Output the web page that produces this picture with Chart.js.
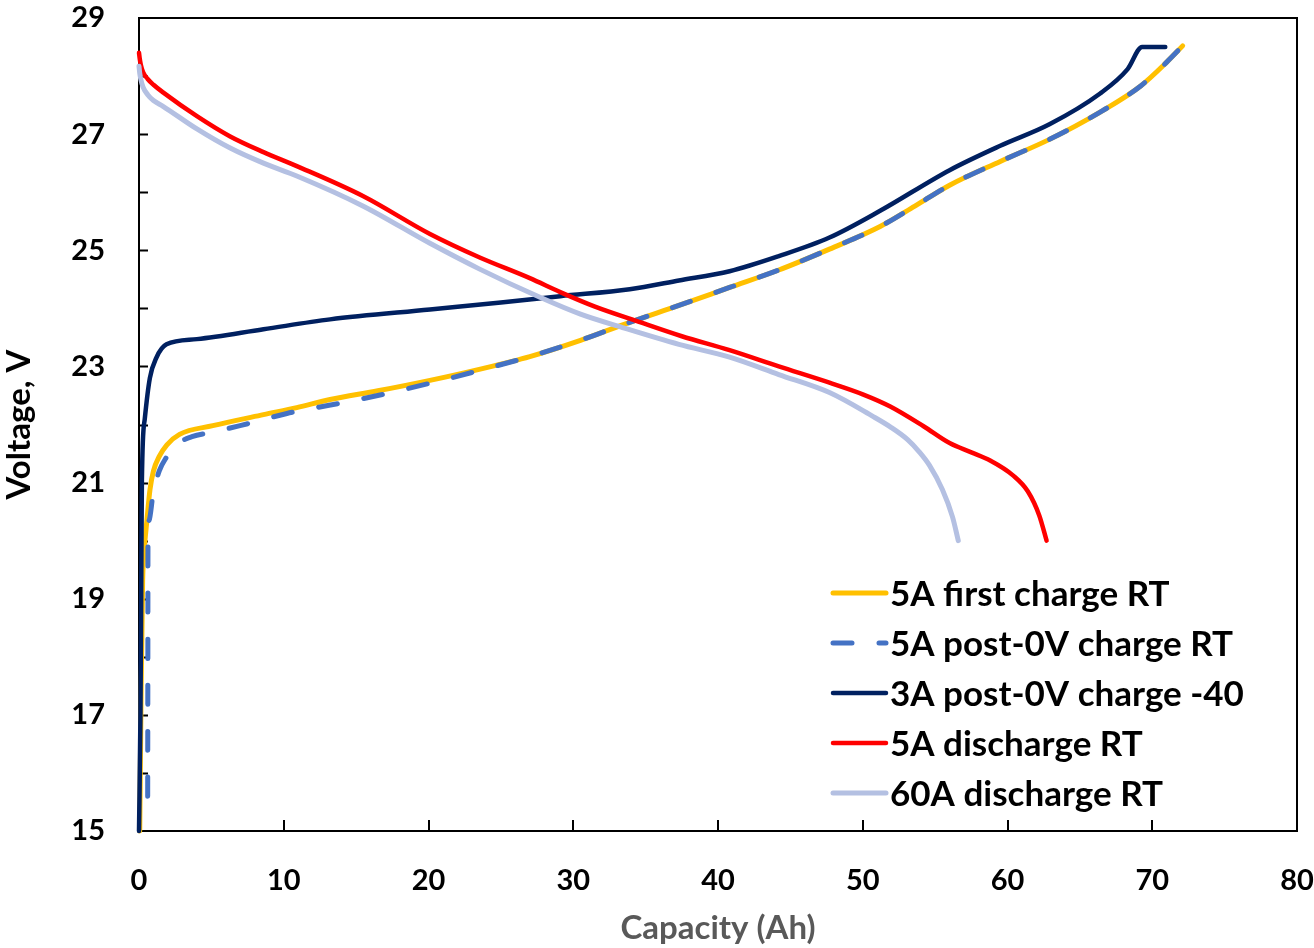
<!DOCTYPE html>
<html>
<head>
<meta charset="utf-8">
<script src="https://cdn.jsdelivr.net/npm/chart.js@4.4.1/dist/chart.umd.min.js"></script>
<style>
    html, body { margin: 0; padding: 0; background: #fff; }
    canvas { display: block; }
</style>
</head>
<body>
<canvas id="voltage-chart" width="1314" height="948"></canvas>
<script>
// capacity (Ah) / voltage (V) pairs for each run
const firstChargeCap = [0.05, 0.15, 0.25, 0.35, 0.55, 0.76, 1.0, 1.4, 1.93, 2.8, 5.1, 8.6, 10.9, 13.2, 16.5, 20.1, 23.5, 27.0, 30.5, 33.9, 37.3, 40.8, 44.2, 47.7, 51.2, 53.6, 56.0, 59.5, 62.9, 66.4, 69.2, 71.0, 72.1];
const firstChargeV = [15.0, 17.5, 19.3, 19.8, 20.36, 20.88, 21.2, 21.45, 21.65, 21.83, 21.98, 22.17, 22.29, 22.43, 22.58, 22.76, 22.95, 23.17, 23.45, 23.76, 24.05, 24.36, 24.66, 25.02, 25.41, 25.76, 26.12, 26.53, 26.91, 27.38, 27.83, 28.24, 28.52];

const postChargeCap = [0.6, 0.61, 0.62, 0.7, 0.97, 1.4, 1.93, 2.4, 3.66, 5.11, 6.98, 8.36, 10.22, 11.6, 15.0, 20.1, 23.5, 27.0, 30.5, 33.9, 37.3, 40.8, 44.2, 47.7, 51.2, 53.6, 56.0, 59.5, 62.9, 66.4, 69.2, 71.0, 72.1];
const postChargeV = [15.6, 17.5, 19.97, 20.35, 20.8, 21.2, 21.45, 21.62, 21.79, 21.87, 21.98, 22.07, 22.19, 22.26, 22.42, 22.71, 22.93, 23.17, 23.45, 23.76, 24.05, 24.36, 24.66, 25.02, 25.41, 25.76, 26.12, 26.53, 26.91, 27.38, 27.83, 28.24, 28.52];

const coldChargeCap = [0, 0.1, 0.15, 0.2, 0.4, 0.75, 1.2, 1.9, 4.0, 8.6, 13.2, 20.1, 25.0, 29.1, 33.9, 37.3, 40.8, 44.2, 47.7, 51.2, 56.0, 59.5, 62.9, 66.4, 68.3, 69.3, 70.9];
const coldChargeV = [15.0, 17.0, 19.0, 21.05, 22.1, 22.8, 23.15, 23.38, 23.47, 23.64, 23.81, 23.98, 24.1, 24.21, 24.33, 24.48, 24.64, 24.9, 25.22, 25.68, 26.38, 26.8, 27.17, 27.7, 28.12, 28.5, 28.5];

const discharge5Cap = [0, 0.05, 0.12, 0.28, 0.6, 1.0, 1.66, 4.0, 6.3, 8.6, 10.9, 15.5, 20.1, 23.5, 27.0, 29.1, 31.5, 34.4, 37.5, 40.8, 44.2, 47.7, 50.0, 51.9, 54.2, 56.0, 57.5, 58.8, 60.4, 61.4, 62.2, 62.7];
const discharge5V = [28.4, 28.3, 28.2, 28.07, 27.95, 27.85, 27.72, 27.31, 26.96, 26.69, 26.45, 25.93, 25.28, 24.88, 24.52, 24.28, 24.03, 23.78, 23.52, 23.28, 23.0, 22.72, 22.52, 22.31, 21.97, 21.68, 21.52, 21.38, 21.12, 20.85, 20.43, 20.0];

const discharge60Cap = [0, 0.05, 0.12, 0.28, 0.6, 1.0, 1.66, 4.0, 6.3, 8.6, 10.9, 15.5, 20.1, 23.5, 27.7, 30.5, 33.4, 37.3, 40.8, 44.2, 47.7, 50.7, 51.9, 53.1, 53.9, 54.6, 55.5, 56.2, 56.6];
const discharge60V = [28.17, 28.05, 27.95, 27.81, 27.68, 27.58, 27.48, 27.09, 26.76, 26.5, 26.28, 25.76, 25.12, 24.68, 24.19, 23.9, 23.67, 23.38, 23.16, 22.86, 22.55, 22.14, 21.96, 21.74, 21.53, 21.3, 20.88, 20.41, 20.0];

const seriesLabels = [
    '5A first charge RT',
    '5A post-0V charge RT',
    '3A post-0V charge -40',
    '5A discharge RT',
    '60A discharge RT',
];

const xTicks = [0, 10, 20, 30, 40, 50, 60, 70, 80];
const yTicks = [15, 17, 19, 21, 23, 25, 27, 29];

function toPoints(xs, ys) {
    return xs.map((x, i) => ({ x: x, y: ys[i] }));
}

const FONT = 'Lato, "Open Sans", sans-serif';
const DASH = [19, 27];

// keep label overhang from shrinking the plot area
function noOverhang(axis) {
    axis.paddingLeft = 0;
    axis.paddingRight = 0;
    axis.paddingTop = 0;
    axis.paddingBottom = 0;
}

// frame round the plot plus the inward tick marks
const framePlugin = {
    id: 'frame',
    beforeDatasetsDraw(chart) {
        const { ctx, chartArea: a, scales } = chart;
        ctx.save();
        ctx.strokeStyle = '#000';
        ctx.lineWidth = 2;
        ctx.strokeRect(a.left, a.top, a.right - a.left, a.bottom - a.top);
        ctx.beginPath();
        for (let v = 16; v < 29; v++) {
            const y = Math.round(scales.y.getPixelForValue(v)) + 0.5;
            ctx.moveTo(a.left, y);
            ctx.lineTo(a.left + 9, y);
        }
        for (let v = 10; v < 80; v += 10) {
            const x = Math.round(scales.x.getPixelForValue(v));
            ctx.moveTo(x, a.bottom);
            ctx.lineTo(x, a.bottom - 11);
        }
        ctx.stroke();
        ctx.restore();
    }
};

// legend box sitting inside the plot, lower right
const legendPlugin = {
    id: 'insideLegend',
    afterDatasetsDraw(chart) {
        const { ctx } = chart;
        const left = 833, right = 886, textX = 890, top = 593, step = 50;
        ctx.save();
        ctx.font = 'bold 35px ' + FONT;
        ctx.textBaseline = 'middle';
        ctx.textAlign = 'left';
        chart.data.datasets.forEach((ds, i) => {
            const y = top + i * step;
            ctx.beginPath();
            ctx.strokeStyle = ds.borderColor;
            ctx.lineWidth = ds.borderWidth;
            ctx.lineCap = 'round';
            ctx.setLineDash(ds.borderDash || []);
            ctx.moveTo(left, y);
            ctx.lineTo(right, y);
            ctx.stroke();
            ctx.setLineDash([]);
            ctx.fillStyle = '#000';
            ctx.fillText(ds.label, textX, y + 2);
        });
        ctx.restore();
    }
};

const lineBase = {
    showLine: true,
    pointRadius: 0,
    borderWidth: 4.5,
    cubicInterpolationMode: 'monotone',
    clip: 6,
    borderCapStyle: 'round',
    borderJoinStyle: 'round',
};

const voltageData = {
    datasets: [
        Object.assign({}, lineBase, {
            label: seriesLabels[0],
            data: toPoints(firstChargeCap, firstChargeV),
            borderColor: '#FFC000',
            borderWidth: 5,
            order: 5,
        }),
        Object.assign({}, lineBase, {
            label: seriesLabels[1],
            data: toPoints(postChargeCap, postChargeV),
            borderColor: '#4472C4',
            borderDash: DASH,
            borderWidth: 5,
            order: 4,
        }),
        Object.assign({}, lineBase, {
            label: seriesLabels[2],
            data: toPoints(coldChargeCap, coldChargeV),
            borderColor: '#002060',
            order: 3,
        }),
        Object.assign({}, lineBase, {
            label: seriesLabels[3],
            data: toPoints(discharge5Cap, discharge5V),
            borderColor: '#FF0000',
            order: 2,
        }),
        Object.assign({}, lineBase, {
            label: seriesLabels[4],
            data: toPoints(discharge60Cap, discharge60V),
            borderColor: '#B4C0E2',
            borderWidth: 5,
            order: 1,
        }),
    ]
};

const voltageConfig = {
    type: 'scatter',
    data: voltageData,
    options: {
        responsive: false,
        animation: false,
        events: [],
        layout: {
            padding: { top: 18, right: 17, left: 0, bottom: 0 },
        },
        plugins: {
            legend: { display: false },
            tooltip: { enabled: false },
        },
        scales: {
            x: {
                type: 'linear',
                min: 0,
                max: 80,
                afterBuildTicks: (axis) => { axis.ticks = xTicks.map(v => ({ value: v })); },
                afterFit: (axis) => { axis.height = 117; noOverhang(axis); },
                grid: { display: false, drawTicks: false },
                border: { display: false },
                ticks: {
                    padding: 32,
                    color: '#000',
                    font: { family: FONT, size: 29, weight: 'bold' },
                },
                title: {
                    display: true,
                    text: 'Capacity (Ah)',
                    color: '#595959',
                    padding: { top: 0, bottom: 0 },
                    font: { family: FONT, size: 33, weight: 'bold' },
                },
            },
            y: {
                type: 'linear',
                min: 15,
                max: 29,
                afterBuildTicks: (axis) => { axis.ticks = yTicks.map(v => ({ value: v })); },
                afterFit: (axis) => { axis.width = 139; noOverhang(axis); },
                grid: { display: false, drawTicks: false },
                border: { display: false },
                ticks: {
                    padding: 34,
                    color: '#000',
                    font: { family: FONT, size: 29, weight: 'bold' },
                },
                title: {
                    display: true,
                    text: 'Voltage, V',
                    color: '#000',
                    padding: { top: 0, bottom: 0 },
                    font: { family: FONT, size: 33, weight: 'bold' },
                },
            },
        },
    },
    plugins: [framePlugin, legendPlugin],
};

const voltageChart = new Chart(document.getElementById('voltage-chart'), voltageConfig);
</script>
</body>
</html>
